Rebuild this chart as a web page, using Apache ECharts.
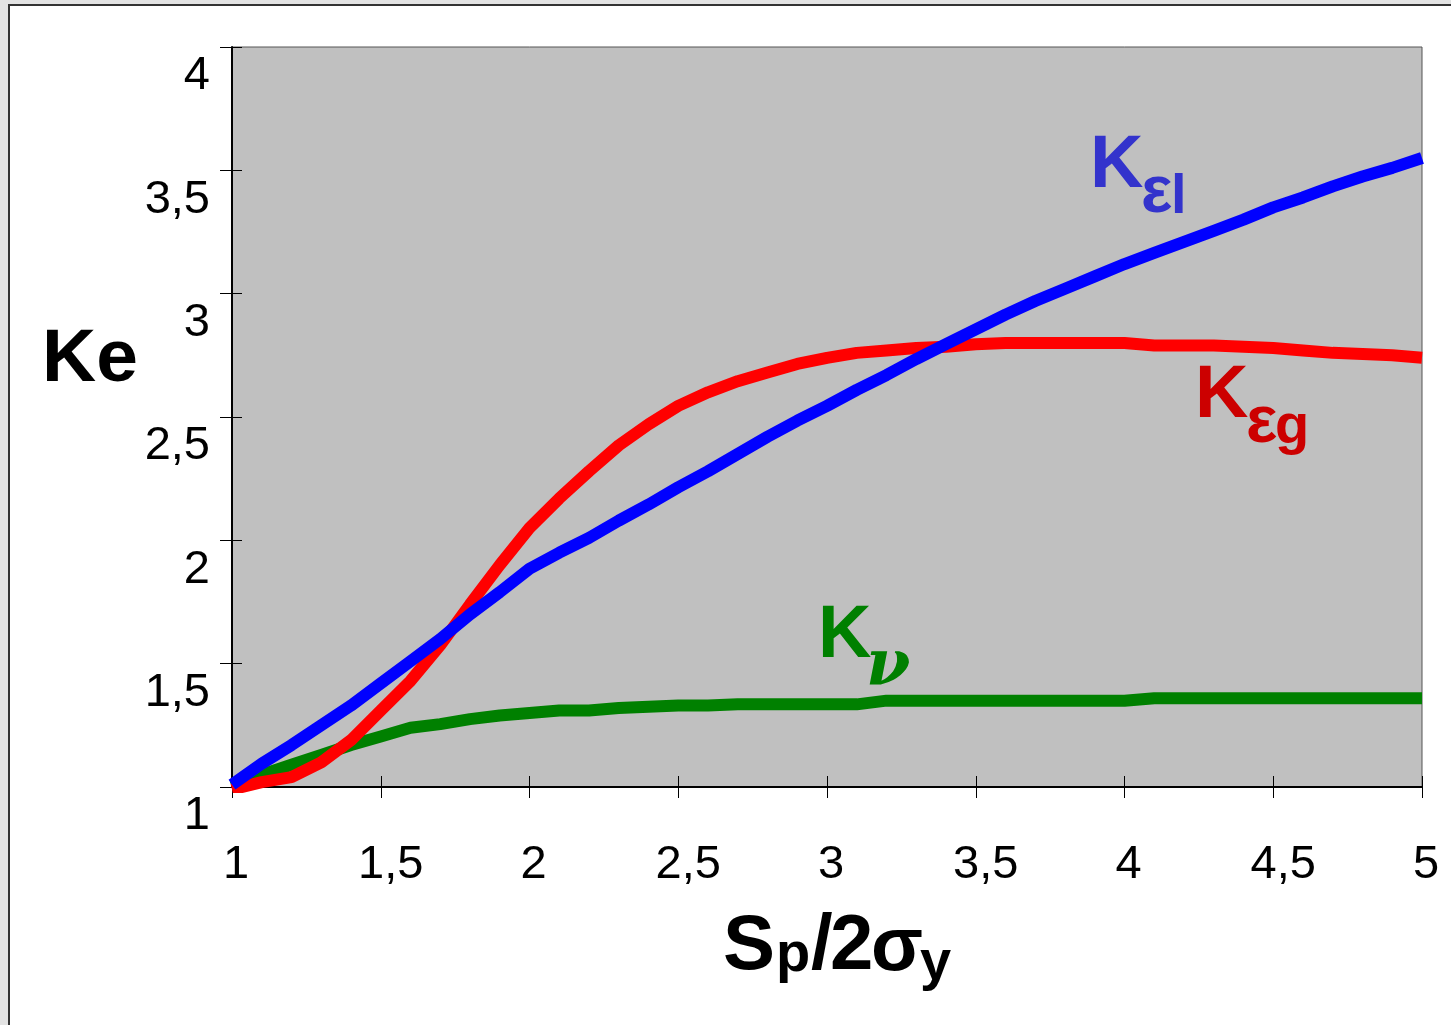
<!DOCTYPE html>
<html>
<head>
<meta charset="utf-8">
<script src="https://cdn.jsdelivr.net/npm/echarts@6/dist/echarts.min.js"></script>
<style>html,body{margin:0;padding:0;background:#e3e3e3;}#c{width:1451px;height:1025px;}</style>
</head>
<body>
<div id="c"></div>
<script>
var xValues = [1.0,1.1,1.2,1.3,1.4,1.5,1.6,1.7,1.8,1.9,2.0,2.1,2.2,2.3,2.4,2.5,2.6,2.7,2.8,2.9,3.0,3.1,3.2,3.3,3.4,3.5,3.6,3.7,3.8,3.9,4.0,4.1,4.2,4.3,4.4,4.5,4.6,4.7,4.8,4.9,5.0];
var kEl = [1.01,1.095,1.17,1.25,1.33,1.42,1.51,1.60,1.70,1.79,1.885,1.95,2.01,2.08,2.145,2.215,2.28,2.35,2.42,2.485,2.545,2.61,2.67,2.735,2.795,2.855,2.915,2.97,3.02,3.07,3.12,3.165,3.21,3.255,3.30,3.35,3.39,3.435,3.475,3.51,3.55];
var kEg = [0.99,1.02,1.04,1.10,1.19,1.31,1.43,1.575,1.74,1.90,2.05,2.17,2.28,2.385,2.47,2.545,2.60,2.645,2.68,2.715,2.74,2.76,2.77,2.78,2.785,2.795,2.80,2.80,2.80,2.80,2.80,2.79,2.79,2.79,2.785,2.78,2.77,2.76,2.755,2.75,2.74];
var kNu = [1.0,1.05,1.09,1.13,1.17,1.205,1.24,1.255,1.275,1.29,1.30,1.31,1.31,1.32,1.325,1.33,1.33,1.335,1.335,1.335,1.335,1.335,1.35,1.35,1.35,1.35,1.35,1.35,1.35,1.35,1.35,1.36,1.36,1.36,1.36,1.36,1.36,1.36,1.36,1.36,1.36];
var xTickLabels = ['1','1,5','2','2,5','3','3,5','4','4,5','5'];
var yTickLabels = ['1','1,5','2','2,5','3','3,5','4'];

function pairs(ys){ return xValues.map(function(x,i){ return [x, ys[i]]; }); }

var FONT = '"Liberation Sans", Arial, sans-serif';
var chart = echarts.init(document.getElementById('c'), null, {renderer:'canvas'});

function txt(t, x, y, size, color, weight, family){
  return {type:'text', x:x, y:y, z:100, style:{text:t, fill:color, font:(weight||'bold')+' '+size+'px '+(family||FONT), verticalAlign:'middle', align:'left'}};
}
function mid(base, size){ return base - 0.3465*size; }

var blueL = '#3333cc', redL = '#cc0000', greenL = '#008000';

var option = {
  animation:false,
  backgroundColor:'#e3e3e3',
  grid:{left:232, top:47, right:29, bottom:238, show:true, backgroundColor:'#c0c0c0', borderColor:'#555', borderWidth:1},
  xAxis:[{
    type:'value', min:1, max:5, interval:0.5, position:'bottom',
    axisLine:{show:true, lineStyle:{color:'#000', width:2}},
    axisTick:{show:true, inside:false, length:11, lineStyle:{color:'#000', width:1}},
    axisLabel:{show:true, fontFamily:FONT, fontSize:47, color:'#000', margin:55, verticalAlign:'top',
      formatter:function(v){ var i = Math.round((v-1)/0.5); var s = xTickLabels[i]; return s.length > 1 ? '{w|' + s + '}' : '{n|' + s + '}'; },
      rich:{
        w:{fontFamily:FONT, fontSize:47, color:'#000', padding:[0,0,0,20]},
        n:{fontFamily:FONT, fontSize:47, color:'#000', padding:[0,0,0,8]}
      }},
    splitLine:{show:false}
  },{
    type:'value', min:1, max:5, interval:0.5, position:'bottom',
    axisLine:{show:false},
    axisTick:{show:true, inside:true, length:11, lineStyle:{color:'#000', width:1}},
    axisLabel:{show:false}, splitLine:{show:false}
  }],
  yAxis:[{
    type:'value', min:1, max:4, interval:0.5, position:'left',
    axisLine:{show:true, lineStyle:{color:'#000', width:2}},
    axisTick:{show:true, inside:false, length:12, lineStyle:{color:'#000', width:1}},
    axisLabel:{show:true, fontFamily:FONT, fontSize:47, color:'#000', margin:22, verticalAlign:'top', padding:[6,0,0,0],
      formatter:function(v){ var i = Math.round((v-1)/0.5); return yTickLabels[i]; }},
    splitLine:{show:false}
  },{
    type:'value', min:1, max:4, interval:0.5, position:'left',
    axisLine:{show:false},
    axisTick:{show:true, inside:true, length:10, lineStyle:{color:'#000', width:1}},
    axisLabel:{show:false}, splitLine:{show:false}
  }],
  series:[
    {name:'Kν', type:'line', data:pairs(kNu), showSymbol:false, smooth:false, lineStyle:{color:'#008000', width:12}, z:2},
    {name:'Kεg', type:'line', data:pairs(kEg), showSymbol:false, smooth:false, lineStyle:{color:'#ff0000', width:12}, z:3},
    {name:'Kεl', type:'line', data:pairs(kEl), showSymbol:false, smooth:false, lineStyle:{color:'#0000ff', width:12}, z:4}
  ],
  graphic:[
    {type:'rect', z:-10, shape:{x:9, y:5, width:1500, height:1100}, style:{fill:'#ffffff', stroke:'#333', lineWidth:2}},
    txt('Ke', 42, mid(386,75), 75, '#000'),
    // x axis title Sp/2σy
    txt('S', 723, mid(975,78), 78, '#000'),
    txt('p', 776, mid(975,56), 56, '#000'),
    txt('/', 811, mid(975,78), 78, '#000'),
    txt('2', 830, mid(975,78), 78, '#000'),
    txt('σ', 871, mid(975,76), 76, '#000'),
    txt('y', 920, mid(983,56), 56, '#000'),
    // Kεl
    txt('K', 1090, mid(192,74), 74, blueL),
    txt('ε', 1141, mid(217,66), 66, blueL),
    txt('l', 1171, mid(217,56), 56, blueL),
    // Kεg
    txt('K', 1195, mid(422,74), 74, redL),
    txt('ε', 1246, mid(447,66), 66, redL),
    txt('g', 1275, mid(447,56), 56, redL),
    // Kν
    txt('K', 818, mid(662,74), 74, greenL),
    txt('ν', 866, mid(690,64), 64, greenL, 'italic bold', '"DejaVu Serif", serif')
  ]
};
chart.setOption(option);
</script>
</body>
</html>
